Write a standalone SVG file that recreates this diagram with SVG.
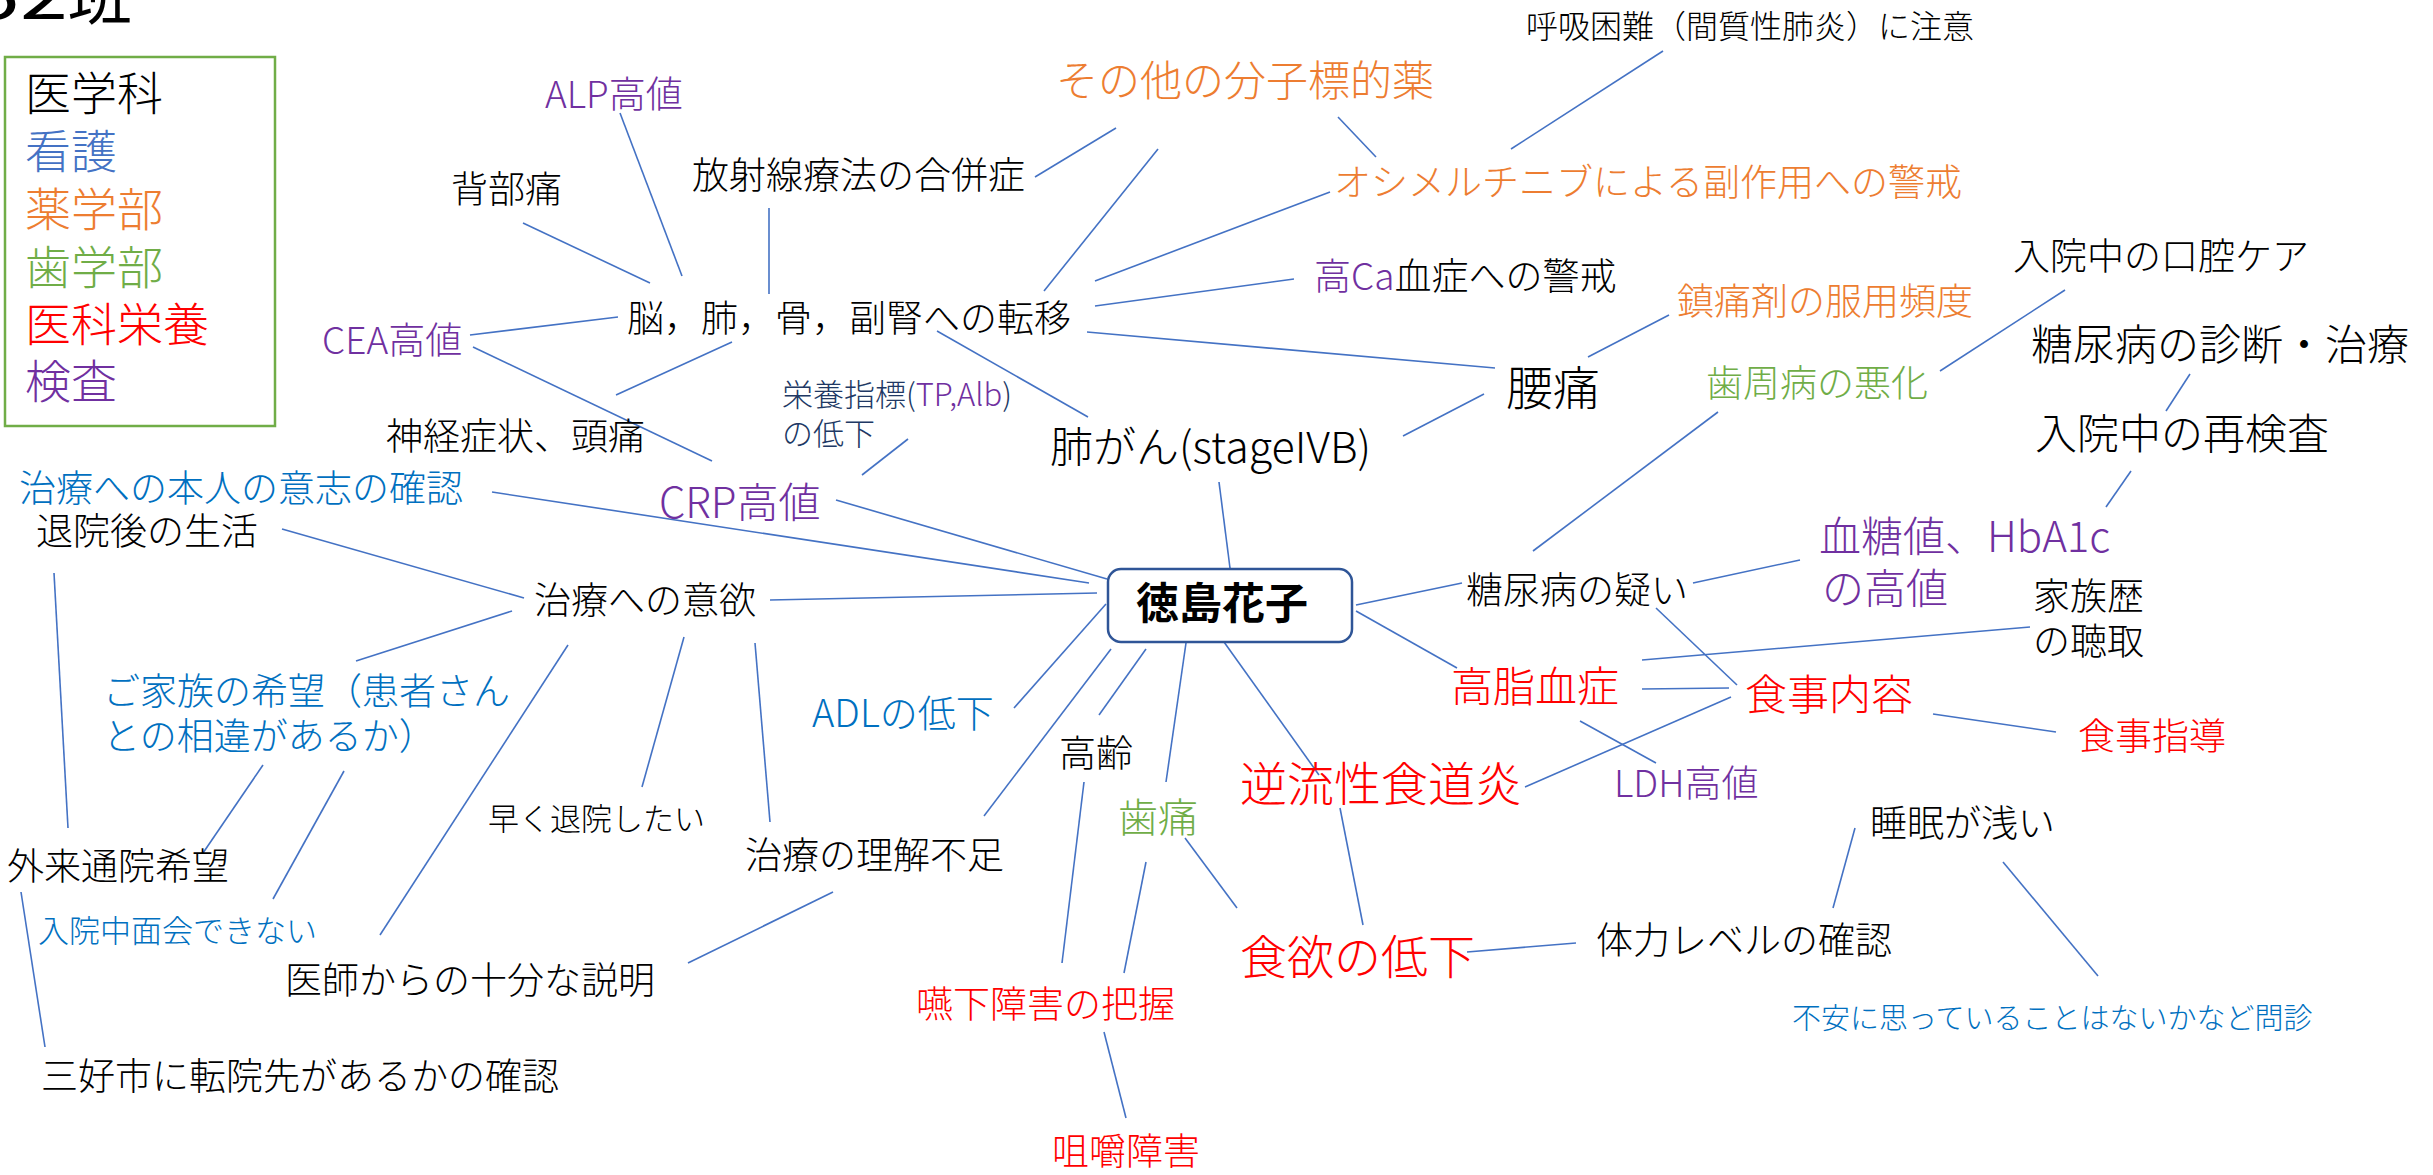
<svg xmlns="http://www.w3.org/2000/svg" width="2433" height="1175" viewBox="0 0 2433 1175">
<style>
text{font-family:"Noto Sans CJK JP","Noto Sans",sans-serif;fill:#000;font-weight:300}
.k{fill:#000}.b{fill:#0070C0}.lb{fill:#4472C4}.o{fill:#ED7D31}.g{fill:#70AD47}.r{fill:#FF0000}.p{fill:#7030A0}.n{fill:#203864}
.s29{font-size:29px}.s31{font-size:31px}.s32{font-size:32px}.s37{font-size:37px}.s38{font-size:38px}.s40{font-size:40px}.s42{font-size:42px}.s43{font-size:43px}.s46{font-size:46px}.s47{font-size:47px}
#connectors line{stroke:#4472C4;stroke-width:1.6;fill:none}
</style>
<rect width="2433" height="1175" fill="#fff"/>
<g id="connectors">
<line x1="620" y1="113" x2="682" y2="276"/>
<line x1="523" y1="223" x2="650" y2="283"/>
<line x1="470" y1="335" x2="618" y2="317"/>
<line x1="473" y1="347" x2="712" y2="461"/>
<line x1="616" y1="395" x2="732" y2="342"/>
<line x1="769" y1="208" x2="769" y2="294"/>
<line x1="1035" y1="177" x2="1116" y2="128"/>
<line x1="1158" y1="149" x2="1044" y2="291"/>
<line x1="1095" y1="281" x2="1330" y2="192"/>
<line x1="1095" y1="306" x2="1294" y2="279"/>
<line x1="1087" y1="332" x2="1495" y2="368"/>
<line x1="937" y1="331" x2="1088" y2="417"/>
<line x1="908" y1="439" x2="862" y2="475"/>
<line x1="1663" y1="51" x2="1511" y2="149"/>
<line x1="1338" y1="117" x2="1376" y2="157"/>
<line x1="1669" y1="315" x2="1588" y2="357"/>
<line x1="2065" y1="290" x2="1940" y2="371"/>
<line x1="1484" y1="394" x2="1403" y2="436"/>
<line x1="1718" y1="412" x2="1533" y2="551"/>
<line x1="2190" y1="374" x2="2166" y2="411"/>
<line x1="2131" y1="471" x2="2106" y2="507"/>
<line x1="1693" y1="583" x2="1800" y2="560"/>
<line x1="1656" y1="608" x2="1737" y2="685"/>
<line x1="2030" y1="627" x2="1642" y2="660"/>
<line x1="1642" y1="689" x2="1729" y2="688"/>
<line x1="1731" y1="697" x2="1525" y2="787"/>
<line x1="1580" y1="721" x2="1656" y2="763"/>
<line x1="1933" y1="714" x2="2056" y2="732"/>
<line x1="1855" y1="828" x2="1833" y2="908"/>
<line x1="2003" y1="862" x2="2098" y2="976"/>
<line x1="1467" y1="952" x2="1576" y2="943"/>
<line x1="836" y1="500" x2="1107" y2="579"/>
<line x1="492" y1="492" x2="1089" y2="583"/>
<line x1="770" y1="600" x2="1097" y2="593"/>
<line x1="1219" y1="482" x2="1230" y2="568"/>
<line x1="1356" y1="605" x2="1462" y2="583"/>
<line x1="1356" y1="611" x2="1457" y2="668"/>
<line x1="1106" y1="604" x2="1014" y2="708"/>
<line x1="1111" y1="649" x2="984" y2="816"/>
<line x1="1146" y1="649" x2="1099" y2="715"/>
<line x1="1186" y1="643" x2="1166" y2="782"/>
<line x1="1219" y1="635" x2="1319" y2="775"/>
<line x1="1084" y1="782" x2="1062" y2="963"/>
<line x1="1146" y1="862" x2="1124" y2="973"/>
<line x1="1185" y1="838" x2="1237" y2="908"/>
<line x1="1340" y1="808" x2="1363" y2="925"/>
<line x1="1104" y1="1032" x2="1126" y2="1118"/>
<line x1="282" y1="529" x2="524" y2="598"/>
<line x1="512" y1="611" x2="356" y2="661"/>
<line x1="54" y1="573" x2="68" y2="828"/>
<line x1="263" y1="765" x2="203" y2="853"/>
<line x1="344" y1="771" x2="273" y2="899"/>
<line x1="568" y1="645" x2="380" y2="935"/>
<line x1="684" y1="637" x2="642" y2="787"/>
<line x1="755" y1="643" x2="770" y2="822"/>
<line x1="833" y1="892" x2="688" y2="963"/>
<line x1="21" y1="892" x2="45" y2="1047"/>
</g>
<g id="title">
<text transform="translate(-28,19) scale(1.35,1)" x="0" y="0" style="font-size:64px;font-weight:400">52</text>
<text x="68" y="19" style="font-size:64px;font-weight:400">班</text>
</g>
<g id="legend">
<rect x="5" y="57" width="270" height="369" fill="none" stroke="#70AD47" stroke-width="2.5"/>
<text class="s46 k" x="25" y="110">医学科</text>
<text class="s46 lb" x="25" y="168">看護</text>
<text class="s46 o" x="25" y="226">薬学部</text>
<text class="s46 g" x="25" y="284">歯学部</text>
<text class="s46 r" x="25" y="341">医科栄養</text>
<text class="s46 p" x="25" y="398">検査</text>
</g>
<g id="center">
<rect x="1108" y="569" width="244" height="73" rx="13" fill="#fff" stroke="#2F5597" stroke-width="2.5"/>
<text x="1222" y="619" text-anchor="middle" style="font-size:43px;font-weight:bold">徳島花子</text>
</g>
<g id="n-alp"><text class="s37 p" x="545" y="108">ALP高値</text></g>
<g id="n-backpain"><text class="s37" x="451" y="203">背部痛</text></g>
<g id="n-cea"><text class="s37 p" x="322" y="354">CEA高値</text></g>
<g id="n-radio"><text class="s37" x="692" y="189">放射線療法の合併症</text></g>
<g id="n-other"><text class="s42 o" x="1056" y="96">その他の分子標的薬</text></g>
<g id="n-meta"><text class="s37" x="627" y="332">脳，肺，骨，副腎への転移</text></g>
<g id="n-neuro"><text class="s37" x="386" y="450">神経症状、頭痛</text></g>
<g id="n-nutri"><text class="s31 n" x="782" y="406">栄養指標(<tspan class="p">TP,Alb</tspan>)</text><text class="s31 n" x="782" y="445">の低下</text></g>
<g id="n-lung"><text class="s43" x="1050" y="463">肺がん(stageIVB)</text></g>
<g id="n-crp"><text class="s42 p" x="659" y="518">CRP高値</text></g>
<g id="n-dyspnea"><text class="s32" x="1526" y="38">呼吸困難（間質性肺炎）に注意</text></g>
<g id="n-osi"><text class="s37 o" x="1334" y="196">オシメルチニブによる副作用への警戒</text></g>
<g id="n-ca"><text class="s37" x="1314" y="290"><tspan class="p">高Ca</tspan>血症への警戒</text></g>
<g id="n-analg"><text class="s37 o" x="1677" y="315">鎮痛剤の服用頻度</text></g>
<g id="n-oral"><text class="s37" x="2013" y="270">入院中の口腔ケア</text></g>
<g id="n-lumbago"><text class="s47" x="1506" y="405">腰痛</text></g>
<g id="n-perio"><text class="s37 g" x="1706" y="397">歯周病の悪化</text></g>
<g id="n-dmdx"><text class="s42" x="2031" y="360">糖尿病の診断・治療</text></g>
<g id="n-retest"><text class="s42" x="2035" y="449">入院中の再検査</text></g>
<g id="n-hba1c"><text class="s42 p" x="1819" y="552">血糖値、HbA1c</text><text class="s42 p" x="1822" y="604">の高値</text></g>
<g id="n-dmsus"><text class="s37" x="1466" y="604">糖尿病の疑い</text></g>
<g id="n-family"><text class="s37" x="2033" y="610">家族歴</text><text class="s37" x="2033" y="655">の聴取</text></g>
<g id="n-lipid"><text class="s42 r" x="1451" y="702">高脂血症</text></g>
<g id="n-meal"><text class="s42 r" x="1745" y="710">食事内容</text></g>
<g id="n-ldh"><text class="s37 p" x="1614" y="797">LDH高値</text></g>
<g id="n-diet"><text class="s37 r" x="2078" y="750">食事指導</text></g>
<g id="n-sleep"><text class="s37" x="1870" y="837">睡眠が浅い</text></g>
<g id="n-stamina"><text class="s37" x="1596" y="954">体力レベルの確認</text></g>
<g id="n-anxiety"><text class="s29 b" x="1792" y="1029">不安に思っていることはないかなど問診</text></g>
<g id="n-adl"><text class="s38 b" x="812" y="727">ADLの低下</text></g>
<g id="n-age"><text class="s37" x="1059" y="767">高齢</text></g>
<g id="n-tooth"><text class="s40 g" x="1118" y="832">歯痛</text></g>
<g id="n-reflux"><text class="s47 r" x="1240" y="801">逆流性食道炎</text></g>
<g id="n-appetite"><text class="s47 r" x="1240" y="974">食欲の低下</text></g>
<g id="n-swallow"><text class="s37 r" x="916" y="1018">嚥下障害の把握</text></g>
<g id="n-chew"><text class="s37 r" x="1052" y="1165">咀嚼障害</text></g>
<g id="n-will"><text class="s37 b" x="19" y="502">治療への本人の意志の確認</text></g>
<g id="n-life"><text class="s37" x="36" y="545">退院後の生活</text></g>
<g id="n-motiv"><text class="s37" x="534" y="614">治療への意欲</text></g>
<g id="n-familywish"><text class="s37 b" x="103" y="705">ご家族の希望（患者さん</text><text class="s37 b" x="103" y="750">との相違があるか）</text></g>
<g id="n-early"><text class="s31" x="488" y="830">早く退院したい</text></g>
<g id="n-understand"><text class="s37" x="745" y="869">治療の理解不足</text></g>
<g id="n-outpatient"><text class="s37" x="7" y="880">外来通院希望</text></g>
<g id="n-visit"><text class="s31 b" x="38" y="942">入院中面会できない</text></g>
<g id="n-explain"><text class="s37" x="285" y="994">医師からの十分な説明</text></g>
<g id="n-miyoshi"><text class="s37" x="41" y="1090">三好市に転院先があるかの確認</text></g>
</svg>
